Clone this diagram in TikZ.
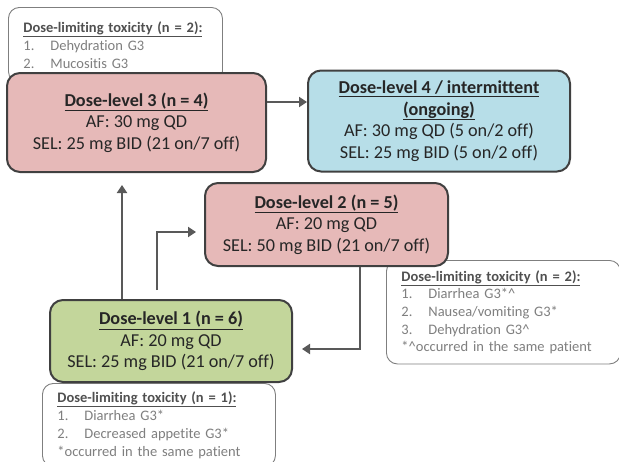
\documentclass[tikz,border=0pt]{standalone}
\usepackage{fontspec}
\setmainfont{Carlito}[Ligatures=NoCommon]
\usepackage{xcolor}
\usepackage{tikz}
\usetikzlibrary{positioning,arrows.meta}
\definecolor{levelpink}{HTML}{E6B9B8}
\definecolor{levelblue}{HTML}{B7DEE8}
\definecolor{levelgreen}{HTML}{C3D69B}
\definecolor{boxborder}{HTML}{404040}
\definecolor{arrowgray}{HTML}{595959}
\definecolor{notegray}{HTML}{7F7F7F}
\definecolor{notehead}{HTML}{505050}
\newcommand{\dltitem}[2]{\makebox[27pt][l]{#1}#2}
\newcommand{\dlthead}[1]{{\color{notehead}\underline{\textbf{#1}}}}
\tikzset{
    dose level/.style={rectangle, rounded corners=13pt, draw=boxborder, line width=2pt, align=center, inner sep=0pt, text=black!85, font=\fontsize{18.2}{21.5}\selectfont},
    pink level/.style={dose level, fill=levelpink},
    blue level/.style={dose level, fill=levelblue},
    green level/.style={dose level, fill=levelgreen},
    dlt note/.style={rectangle, rounded corners=11pt, draw=notegray, line width=0.9pt, fill=white, anchor=north west, align=left, inner xsep=15pt, inner ysep=12pt, text=notegray, font=\fontsize{14.5}{18}\selectfont},
    level arrow/.style={-{Triangle[length=8pt,width=10pt]}, line width=2.5pt, draw=arrowgray}
}
\begin{document}
\begin{tikzpicture}[x=1pt, y=-1pt]
\useasboundingbox (0,0) rectangle (619,461);
% Dose-limiting toxicity notes
\node[dlt note, text width=184pt, minimum height=75pt] (dlt3) at (8,7) {\dlthead{Dose-limiting toxicity (n = 2):}\\
\dltitem{1.}{Dehydration G3}\\
\dltitem{2.}{Mucositis G3}};
\node[dlt note, text width=204pt, inner ysep=10pt, font=\fontsize{14.5}{17.6}\selectfont] (dlt2) at (386,260) {\dlthead{Dose-limiting toxicity (n = 2):}\\
\dltitem{1.}{Diarrhea G3*\^{}}\\
\dltitem{2.}{Nausea/vomiting G3*}\\
\dltitem{3.}{Dehydration G3\^{}}\\{}%
*\^{}occurred in the same patient};
\node[dlt note, text width=203pt, inner ysep=8pt] (dlt1) at (42,383) {\dlthead{Dose-limiting toxicity (n = 1):}\\
\dltitem{1.}{Diarrhea G3*}\\
\dltitem{2.}{Decreased appetite G3*}\\{}%
*occurred in the same patient};

% Dose levels
\node[pink level, minimum width=259pt, minimum height=99pt] (dl3) at (136.5,122.5) {\underline{\textbf{Dose-level 3 (n = 4)}}\\AF: 30 mg QD\\SEL: 25 mg BID (21 on/7 off)};
\node[blue level, minimum width=262pt, minimum height=101pt] (dl4) at (439,121) {\underline{\textbf{Dose-level 4 / intermittent}}\\\underline{\textbf{(ongoing)}}\\AF: 30 mg QD (5 on/2 off)\\SEL: 25 mg BID (5 on/2 off)};
\node[pink level, minimum width=243pt, minimum height=83pt] (dl2) at (326.5,224.5) {\underline{\textbf{Dose-level 2 (n = 5)}}\\AF: 20 mg QD\\SEL: 50 mg BID (21 on/7 off)};
\node[green level, minimum width=242pt, minimum height=82pt] (dl1) at (171,341) {\underline{\textbf{Dose-level 1 (n = 6)}}\\AF: 20 mg QD\\SEL: 25 mg BID (21 on/7 off)};

% Arrow ends
\coordinate (tip13) at (122,185);
\coordinate (from12) at (157,290);
\coordinate (tip12) at (196,232);
\coordinate (tip21) at (302,349);

% Arrows
\draw[level arrow] ([yshift=20.5pt]dl3.east) -- ([yshift=20.5pt]dl3.east -| dl4.west);
\draw[level arrow] (dl1.north -| tip13) -- (tip13);
\draw[level arrow] (from12) |- (tip12);
\draw[level arrow] ([xshift=33.5pt]dl2.south) |- (tip21);
\end{tikzpicture}
\end{document}
